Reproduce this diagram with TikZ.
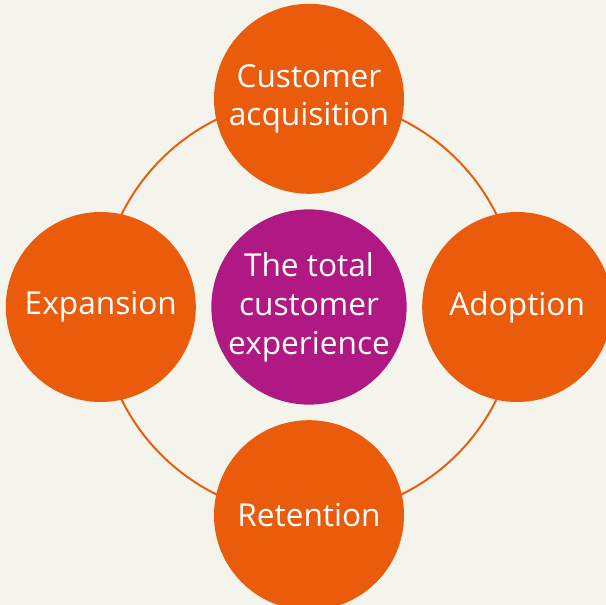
\documentclass[tikz,border=0pt]{standalone}
\usepackage{fontspec}
\setmainfont{Open Sans}
\usetikzlibrary{positioning}

\definecolor{stageorange}{HTML}{EB5B0C}
\definecolor{hubmagenta}{HTML}{B01883}
\definecolor{paper}{HTML}{F5F4EC}

\begin{document}
\begin{tikzpicture}[
        stage/.style={circle, fill=stageorange, minimum size=4.75cm, inner sep=0pt, align=center, text=white, font=\fontsize{22.5}{27.6}\selectfont},
        hub/.style={stage, fill=hubmagenta},
        ring/.style={draw=stageorange, line width=1.4pt}
    ]

    % Hintergrund
    \fill[paper] (-7.725,-7.45) rectangle (7.425,7.675);
    \useasboundingbox (-7.725,-7.45) rectangle (7.425,7.675);

    % Ring hinter den Kreisen
    \coordinate (centre) at (0,0);
    \draw[ring] (centre) circle[radius=5.225cm];

    % Mitte
    \node[hub] (experience) at (centre) {The total\\customer\\experience};

    % Phasen rundherum
    \node[stage, above=0.375cm of experience] (acquisition) {Customer\\acquisition};
    \node[stage, right=0.375cm of experience] (adoption) {Adoption};
    \node[stage, below=0.375cm of experience] (retention) {Retention};
    \node[stage, left=0.375cm of experience] (expansion) {Expansion};

\end{tikzpicture}
\end{document}
